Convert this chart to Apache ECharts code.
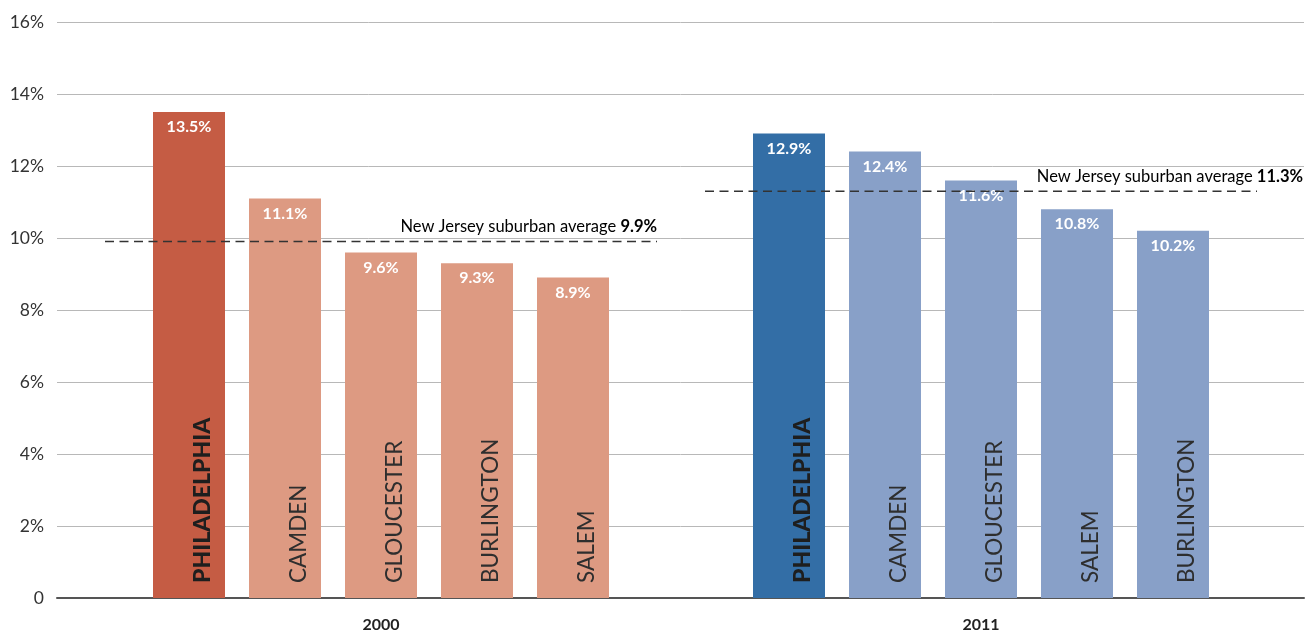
<!DOCTYPE html>
<html>
<head>
<meta charset="utf-8">
<title>Poverty rate: Philadelphia and New Jersey suburbs</title>
<script src="https://cdn.jsdelivr.net/npm/echarts@6/dist/echarts.min.js"></script>
<style>
  html, body { margin: 0; padding: 0; background: #fff; }
  #chart { width: 1310px; height: 634px; }
</style>
</head>
<body>
<div id="chart"></div>
<script>
// Years shown as the two groups of bars
const years = ['2000', '2011'];

// Counties in each year, ordered from highest to lowest rate
const names2000 = ['PHILADELPHIA', 'CAMDEN', 'GLOUCESTER', 'BURLINGTON', 'SALEM'];
const values2000 = [13.5, 11.1, 9.6, 9.3, 8.9];

const names2011 = ['PHILADELPHIA', 'CAMDEN', 'GLOUCESTER', 'SALEM', 'BURLINGTON'];
const values2011 = [12.9, 12.4, 11.6, 10.8, 10.2];

// New Jersey suburban average per year
const njAverage = [9.9, 11.3];

// Y axis range and step (percent)
const yMin = 0, yMax = 16, yStep = 2;

// ---- styling ----
const FONT = 'Lato, "Open Sans", "Noto Sans", sans-serif';
const cityColors = ['#c55c44', '#336ea6'];
const suburbColors = ['#dd9a82', '#88a0c8'];
const BAR_W = 72;
const BAR_GAP = (24 / 72 * 100) + '%';
const avgLabelShift = [0, 46];

const namesByYear = [names2000, names2011];
const valuesByYear = [values2000, values2011];
const rankCount = names2000.length;

function itemColor(yearIdx, rank) {
  return rank === 0 ? cityColors[yearIdx] : suburbColors[yearIdx];
}

const series = [];

// Visible bars, carrying the vertical county name at the bottom
for (let r = 0; r < rankCount; r++) {
  series.push({
    type: 'bar',
    xAxisIndex: 1,
    yAxisIndex: 1,
    barWidth: BAR_W,
    barGap: BAR_GAP,
    z: 2,
    data: years.map((y, yi) => ({
      value: valuesByYear[yi][r],
      itemStyle: { color: itemColor(yi, r) },
      label: r === 0 ? { fontWeight: 900, color: '#1e1e1e', fontSize: 23 } : {}
    })),
    label: {
      show: true,
      position: 'insideBottom',
      distance: 15,
      rotate: 90,
      align: 'left',
      verticalAlign: 'middle',
      offset: [0, 14],
      fontFamily: FONT,
      fontSize: 22.5,
      color: '#2e2e2e',
      formatter: p => namesByYear[p.dataIndex][r]
    },
    emphasis: { disabled: true },
    silent: true
  });
}

// Transparent twins on a mirrored axis, carrying the value labels at the top
for (let r = 0; r < rankCount; r++) {
  series.push({
    type: 'bar',
    xAxisIndex: 2,
    yAxisIndex: 1,
    barWidth: BAR_W,
    barGap: BAR_GAP,
    z: 3,
    itemStyle: { color: 'rgba(0,0,0,0)' },
    data: years.map((y, yi) => valuesByYear[yi][r]),
    label: {
      show: true,
      position: 'insideTop',
      distance: 7,
      fontFamily: FONT,
      fontSize: 16,
      fontWeight: 'bold',
      color: '#ffffff',
      formatter: p => p.value.toFixed(1) + '%'
    },
    emphasis: { disabled: true },
    silent: true
  });
}

// Dashed average line across each year group, with its caption
series.push({
  type: 'custom',
  xAxisIndex: 1,
  yAxisIndex: 1,
  z: 5,
  silent: true,
  clip: false,
  data: njAverage.map((v, i) => [i, v]),
  renderItem: (params, api) => {
    const c = api.coord([api.value(0), api.value(1)]);
    const band = api.size([1, 0])[0];
    const x1 = c[0] - band / 2 + 24;
    const x2 = c[0] + band / 2 - 24;
    const v = api.value(1);
    return {
      type: 'group',
      children: [
        {
          type: 'line',
          shape: { x1: x1, y1: c[1], x2: x2, y2: c[1] },
          style: { stroke: '#333', lineWidth: 1.5, lineDash: [9, 5.5] }
        },
        {
          type: 'text',
          style: {
            x: x2 + avgLabelShift[params.dataIndex],
            y: c[1] - 6,
            align: 'right',
            verticalAlign: 'bottom',
            text: '{a|New Jersey suburban average }{b|' + v.toFixed(1) + '%}',
            rich: {
              a: { fontFamily: FONT, fontSize: 16.5, color: '#333' },
              b: { fontFamily: FONT, fontSize: 16.5, fontWeight: 'bold', color: '#222' }
            }
          }
        }
      ]
    };
  }
});

const option = {
  animation: false,
  backgroundColor: '#fff',
  grid: [
    // full-width grid for the gridlines, y labels and base line
    { left: 57, right: 6, top: 22, bottom: 36 },
    // inner grid that holds the two year groups
    { left: 81, right: 29, top: 22, bottom: 36 }
  ],
  xAxis: [
    {
      gridIndex: 0,
      type: 'value',
      min: 0, max: 1,
      axisLine: { show: true, onZero: false, lineStyle: { color: '#555', width: 2 } },
      axisTick: { show: false },
      axisLabel: { show: false },
      splitLine: { show: false }
    },
    {
      gridIndex: 1,
      type: 'category',
      data: years,
      axisLine: { show: false },
      axisTick: { show: false },
      axisLabel: {
        margin: 19,
        fontFamily: FONT,
        fontSize: 16,
        fontWeight: 'bold',
        color: '#222'
      },
      splitLine: { show: false }
    },
    {
      gridIndex: 1,
      type: 'category',
      data: years,
      show: false
    }
  ],
  yAxis: [
    {
      gridIndex: 0,
      type: 'value',
      min: yMin, max: yMax, interval: yStep,
      axisLine: { show: false },
      axisTick: { show: false },
      splitLine: { show: true, lineStyle: { color: '#b8b8b8', width: 1 } },
      axisLabel: {
        margin: 13,
        fontFamily: FONT,
        fontSize: 17.5,
        color: '#333',
        padding: [0, 0, 8, 0],
        formatter: v => (v === 0 ? '0' : v + '%')
      }
    },
    {
      gridIndex: 1,
      type: 'value',
      min: yMin, max: yMax, interval: yStep,
      show: false,
      splitLine: { show: false }
    }
  ],
  series: series
};

const chart = echarts.init(document.getElementById('chart'), null, { renderer: 'canvas' });
chart.setOption(option);
</script>
</body>
</html>
